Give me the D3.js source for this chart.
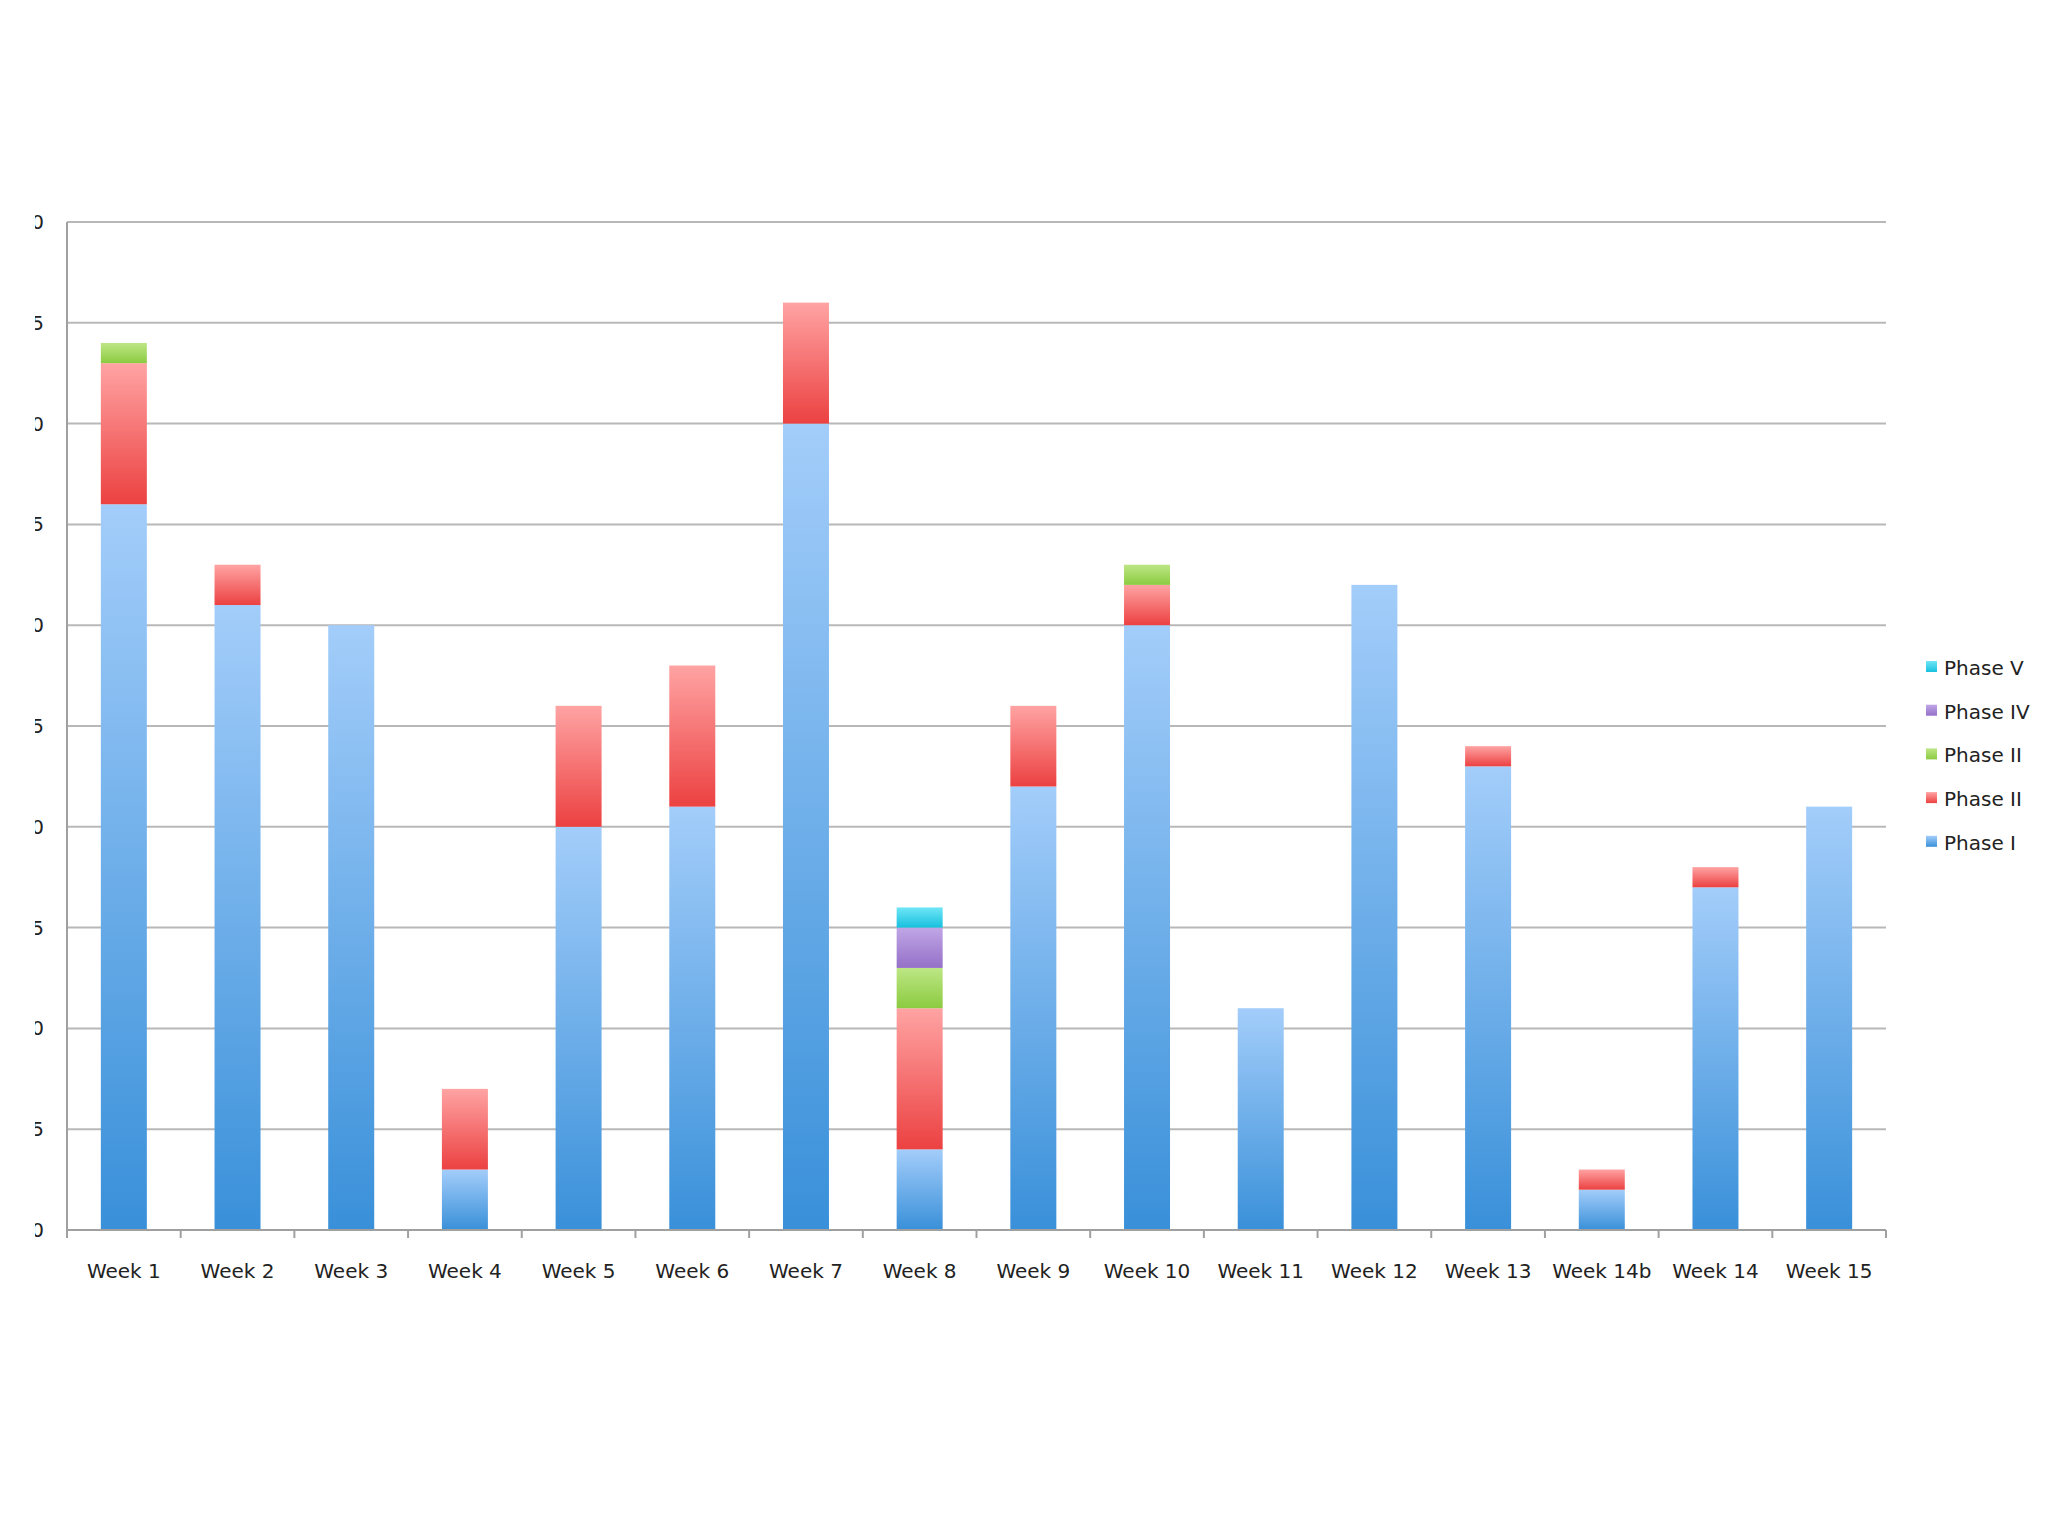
<!DOCTYPE html>
<html><head><meta charset="utf-8">
<script src="https://cdn.jsdelivr.net/npm/d3@7"></script>
<style>body{margin:0;background:#fff}</style></head>
<body><svg id="c" width="2048" height="1536"></svg>
<script>
const categories=["Week 1","Week 2","Week 3","Week 4","Week 5","Week 6","Week 7","Week 8","Week 9","Week 10","Week 11","Week 12","Week 13","Week 14b","Week 14","Week 15"];
const phaseI  =[36,31,30,3,20,21,40,4,22,30,11,32,23,2,17,21];
const phaseII =[7,2,0,4,6,7,6,7,4,2,0,0,1,1,1,0];
const phaseIIg=[1,0,0,0,0,0,0,2,0,1,0,0,0,0,0,0];
const phaseIV =[0,0,0,0,0,0,0,2,0,0,0,0,0,0,0,0];
const phaseV  =[0,0,0,0,0,0,0,1,0,0,0,0,0,0,0,0];
const seriesNames=["Phase I","Phase II","Phase II","Phase IV","Phase V"];
const yTicks=[0,5,10,15,20,25,30,35,40,45,50];

const series=[phaseI,phaseII,phaseIIg,phaseIV,phaseV];
const grads=[["#a3cdfa","#3990d9"],["#ffa3a3","#ec4141"],["#bde685","#8bcb40"],["#c0a6e6","#9570c8"],["#6fe6f7","#17c0de"]];
const svg=d3.select("#c");
const L=67,R=1886,T=222,B=1230;
const x=d3.scaleBand().domain(categories).range([L,R]);
const y=d3.scaleLinear().domain([0,50]).range([B,T]);
const defs=svg.append("defs");
grads.forEach((g,i)=>{const lg=defs.append("linearGradient").attr("id","g"+i).attr("x1",0).attr("y1",0).attr("x2",0).attr("y2",1);
 lg.append("stop").attr("offset","0%").attr("stop-color",g[0]);lg.append("stop").attr("offset","100%").attr("stop-color",g[1]);});
defs.append("clipPath").attr("id","yc").append("rect").attr("x",35).attr("y",0).attr("width",100).attr("height",1536);

svg.append("g").selectAll("line").data(yTicks.slice(1)).join("line")
 .attr("x1",L).attr("x2",R).attr("y1",d=>y(d)).attr("y2",d=>y(d)).attr("stroke","#b8b8b8").attr("stroke-width",2);
svg.append("g").attr("clip-path","url(#yc)").selectAll("text").data(yTicks).join("text")
 .attr("x",44).attr("y",d=>y(d)+7).attr("text-anchor","end").attr("font-family","Lucida Grande, DejaVu Sans, sans-serif")
 .attr("font-size",20).attr("fill","#222").text(d=>d);

const bw=46;
categories.forEach((c,ci)=>{let base=0;
 series.forEach((s,si)=>{const v=s[ci];if(v>0){
  svg.append("rect").attr("x",x(c)+x.bandwidth()/2-bw/2).attr("width",bw)
   .attr("y",y(base+v)).attr("height",y(base)-y(base+v)).attr("fill","url(#g"+si+")");}
  base+=v;});});

svg.append("line").attr("x1",L).attr("x2",L).attr("y1",T).attr("y2",B).attr("stroke","#a0a0a0").attr("stroke-width",2);
svg.append("line").attr("x1",L).attr("x2",R).attr("y1",B).attr("y2",B).attr("stroke","#a0a0a0").attr("stroke-width",2);
svg.append("g").selectAll("line").data(categories.map(c=>x(c)).concat([R])).join("line")
 .attr("x1",d=>d).attr("x2",d=>d).attr("y1",B).attr("y2",B+8).attr("stroke","#a0a0a0").attr("stroke-width",2);
svg.append("g").selectAll("text").data(categories).join("text")
 .attr("x",c=>x(c)+x.bandwidth()/2).attr("y",1278).attr("text-anchor","middle")
 .attr("font-family","Lucida Grande, DejaVu Sans, sans-serif").attr("font-size",20).attr("fill","#222").text(c=>c);

const leg=[4,3,2,1,0];
leg.forEach((si,k)=>{const ly=667+k*43.7;
 svg.append("rect").attr("x",1926).attr("y",ly-6).attr("width",11).attr("height",11).attr("fill","url(#g"+si+")");
 svg.append("text").attr("x",1944).attr("y",ly+8).attr("font-family","Lucida Grande, DejaVu Sans, sans-serif")
  .attr("font-size",20).attr("fill","#222").text(seriesNames[si]);});
</script></body></html>
